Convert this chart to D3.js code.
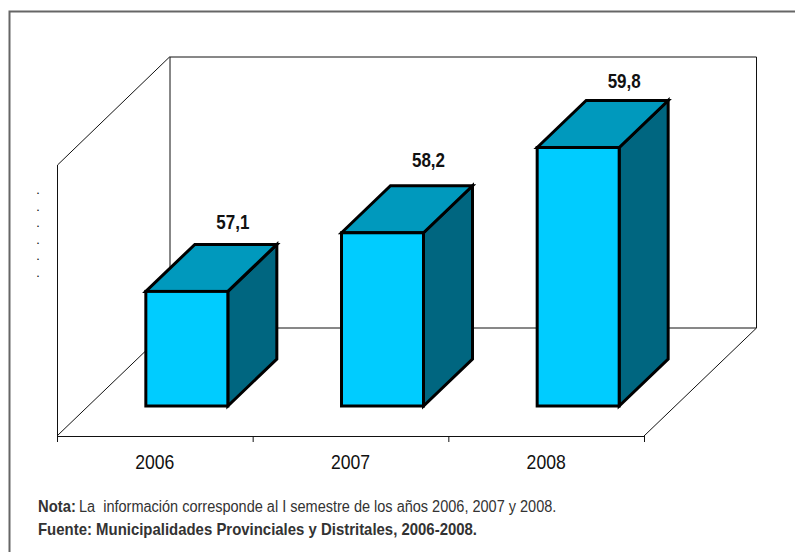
<!DOCTYPE html>
<html>
<head>
<meta charset="utf-8">
<script src="https://cdn.jsdelivr.net/npm/d3@7"></script>
<style>
  body { margin: 0; background: #fff; }
  svg { display: block; }
  text { font-family: "Liberation Sans", sans-serif; fill: #111; }
</style>
</head>
<body>
<div id="chart"></div>
<script>
// Data
const years = ["2006", "2007", "2008"];
const values = [57.1, 58.2, 59.8];
const valueLabels = ["57,1", "58,2", "59,8"];
const hiddenTicks = [".", ".", ".", ".", ".", "."];
const notaLabel = "Nota:";
const notaText = "La  información corresponde al I semestre de los años 2006, 2007 y 2008.";
const fuenteText = "Fuente: Municipalidades Provinciales y Distritales, 2006-2008.";

// Set up dimensions
const width = 795;
const height = 552;

// Front plane of the box and the floor offset
const frontLeft = 57, frontRight = 644, floorY = 436, wallTop = 165;
const depthX = 112.5, depthY = -108;
// Bars stand in the middle of the floor
const barDepthX = 49, barDepthY = -47;
const barShiftX = 32, barShiftY = -30;
const labelNudge = [-15, -19, -12];

const svg = d3.select("#chart").append("svg")
    .attr("width", width)
    .attr("height", height);

// The original uses a narrow font, squeeze the text horizontally
function narrow(sel, x, y, sx) {
    return sel.attr("transform", `translate(${x},${y}) scale(${sx},1)`);
}

// Outer frame, open on the right and at the bottom
svg.append("path")
    .attr("d", `M${width},11.5 H9.5 V${height}`)
    .attr("fill", "none")
    .attr("stroke", "#666")
    .attr("stroke-width", 2);

const xScale = d3.scaleBand()
    .domain(years)
    .range([frontLeft, frontRight])
    .paddingInner(0)
    .paddingOuter(0);

const barWidth = 82;

const yScale = d3.scaleLinear()
    .domain([54.95, 60])
    .range([floorY + barShiftY, floorY + barShiftY - 5.05 * 53.3]);

// Box walls and floor
const wallLine = svg.append("g").attr("fill", "none").attr("stroke", "#111").attr("stroke-width", 1);
wallLine.append("path")
    .attr("d", `M${frontLeft + 0.5},${floorY} V${wallTop} L${frontLeft + depthX},${wallTop + depthY} H${frontRight + depthX} V${floorY + depthY}`);
wallLine.append("path")
    .attr("d", `M${frontLeft + depthX + 0.5},${wallTop + depthY} V${floorY + depthY}`);
wallLine.append("path")
    .attr("d", `M${frontLeft},${floorY} L${frontLeft + depthX},${floorY + depthY} H${frontRight + depthX} L${frontRight},${floorY}`);

// Axis line and ticks between the categories
const tickPositions = years.map((d) => xScale(d)).concat(frontRight);
svg.append("line")
    .attr("x1", frontLeft).attr("x2", frontRight)
    .attr("y1", floorY + 0.5).attr("y2", floorY + 0.5)
    .attr("stroke", "#111").attr("stroke-width", 1.2);
svg.selectAll(".tick-mark")
    .data(tickPositions)
    .enter()
    .append("line")
    .attr("class", "tick-mark")
    .attr("x1", (d) => d + 0.5).attr("x2", (d) => d + 0.5)
    .attr("y1", floorY).attr("y2", floorY + 6)
    .attr("stroke", "#111");

// Bars
const bars = svg.selectAll(".bar")
    .data(values)
    .enter()
    .append("g")
    .attr("class", "bar")
    .attr("stroke", "#000")
    .attr("stroke-width", 3)
    .attr("stroke-linejoin", "miter");

const barLeft = (i) => xScale(years[i]) + xScale.bandwidth() / 2 - barWidth / 2 + barShiftX;
const barBottom = yScale.range()[0];

// Side face
bars.append("path")
    .attr("fill", "#006680")
    .attr("d", (d, i) => {
        const r = barLeft(i) + barWidth, t = yScale(d);
        return `M${r},${t} l${barDepthX},${barDepthY} V${barBottom + barDepthY} L${r},${barBottom} Z`;
    });

// Top face
bars.append("path")
    .attr("fill", "#0099BD")
    .attr("d", (d, i) => {
        const l = barLeft(i), t = yScale(d);
        return `M${l},${t} l${barDepthX},${barDepthY} h${barWidth} l${-barDepthX},${-barDepthY} Z`;
    });

// Front face
bars.append("rect")
    .attr("fill", "#00CCFF")
    .attr("x", (d, i) => barLeft(i))
    .attr("y", (d) => yScale(d))
    .attr("width", barWidth)
    .attr("height", (d) => barBottom - yScale(d));

// Value labels
svg.selectAll(".bar-label")
    .data(values)
    .enter()
    .append("text")
    .attr("class", "bar-label")
    .attr("transform", (d, i) => `translate(${barLeft(i) + barWidth / 2 + 46},${yScale(d) + barDepthY + labelNudge[i]}) scale(0.85,1)`)
    .attr("text-anchor", "middle")
    .style("font-size", "20px")
    .style("font-weight", "bold")
    .text((d, i) => valueLabels[i]);

// Category labels
svg.selectAll(".year-label")
    .data(years)
    .enter()
    .append("text")
    .attr("class", "year-label")
    .attr("transform", (d) => `translate(${xScale(d) + xScale.bandwidth() / 2},469) scale(0.88,1)`)
    .attr("text-anchor", "middle")
    .style("font-size", "20px")
    .text((d) => d);

// Leftover value axis labels, only the dots show
svg.selectAll(".hidden-tick")
    .data(hiddenTicks)
    .enter()
    .append("text")
    .attr("class", "hidden-tick")
    .attr("x", 38)
    .attr("y", (d, i) => 194 + i * 16.6)
    .attr("text-anchor", "middle")
    .style("font-size", "9px")
    .style("font-weight", "bold")
    .text((d) => d);

// Notes
narrow(svg.append("text"), 38, 512, 0.925)
    .style("font-size", "16px")
    .style("font-weight", "bold")
    .style("fill", "#333")
    .text(notaLabel);

narrow(svg.append("text"), 79, 512, 0.907)
    .style("font-size", "16px")
    .style("fill", "#333")
    .style("white-space", "pre")
    .text(notaText);

narrow(svg.append("text"), 38, 535, 0.934)
    .style("font-size", "16px")
    .style("font-weight", "bold")
    .style("fill", "#333")
    .text(fuenteText);
</script>
</body>
</html>
